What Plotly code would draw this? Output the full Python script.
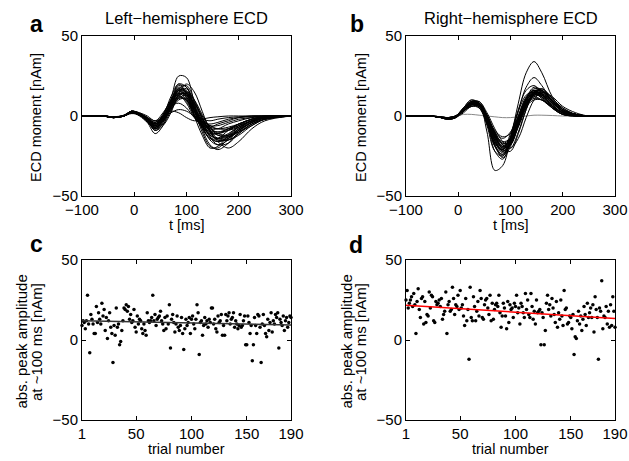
import plotly.graph_objects as go

# ---------------- data ----------------
T_MS = [-100, -60, -40, -20, -5, 10, 25, 40, 55, 70, 85, 100, 115, 130, 145, 160, 180, 200, 225, 250, 300]

LEFT_WAVES = [
    [0, 0, -0.5, 0, 2.5, 1, -3, -9, -4, 10, 25, 24, 8, -8, -18, -21, -17, -10, -4, -1, 0],
    [0, 0, -1, 0, 2, 0.5, -4, -11, -6, 8, 20, 18, 4, -10, -19, -20, -14, -8, -3, -1, 0],
    [0, 0, -0.5, 0.3, 3, 1.5, -1, -5, 0, 12, 20, 14, 0, -12, -20, -19, -12, -6, -2, -0.5, 0],
    [0, 0, -1, 0, 2, 1, -2, -6, -2, 6, 16, 17, 9, -2, -10, -15, -15, -11, -5, -2, 0],
    [0, 0, -0.5, 0, 2.5, 1, -3, -8, -3, 7, 15, 13, 3, -6, -12, -14, -12, -7, -3, -1, 0],
    [0, 0, -1, 0.5, 3, 2, -1, -4, 1, 10, 17, 12, 1, -8, -14, -14, -9, -5, -2, -0.5, 0],
    [0, 0, -0.5, 0, 2, 0, -4, -8, -5, 3, 12, 15, 10, 1, -7, -12, -13, -10, -5, -2, 0],
    [0, 0, -1, 0, 2.5, 1, -2, -5, 0, 8, 14, 10, 1, -5, -9, -10, -8, -5, -2, -0.5, 0],
    [0, 0, -0.5, 0, 1.5, 0.5, -3, -7, -3, 5, 13, 14, 7, -3, -13, -18, -17, -11, -5, -2, 0],
    [0, 0, -1, 0, 3, 1, -2, -6, -1, 9, 18, 15, 4, -4, -8, -8, -5, -3, -1, 0, 0],
    [0, 0, -0.5, 0, 2, 1, -2, -5, -2, 4, 10, 11, 5, -2, -6, -8, -8, -6, -3, -1, 0],
    [0, 0, -1, 0, 2.5, 1, -3, -7, -2, 6, 12, 9, 0, -6, -10, -11, -9, -6, -3, -1, 0],
    [0, 0, -0.5, 0.5, 3, 2, 0, -3, 2, 9, 13, 8, -1, -6, -7, -5, -3, -1, -0.5, 0, 0],
    [0, 0, -1, 0, 2, 0.5, -3, -8, -4, 4, 11, 13, 8, 0, -7, -11, -12, -10, -6, -2, 0],
    [0, 0, -0.5, 0, 2.5, 1, -2, -4, 0, 6, 8, 5, -1, -4, -5, -4, -2, -1, 0, 0, 0],
    [0, 0, -1, 0, 2, 1, -1, -3, -1, 2, 4, 3, 0, -2, -3, -2, -1, -0.5, 0, 0, 0],
    [0, 0, -0.5, 0, 3, 1.5, -2, -6, -1, 8, 16, 16, 6, -5, -13, -16, -14, -9, -4, -1, 0],
    [0, 0, -1, 0, 2, 0.5, -3, -9, -6, 2, 14, 20, 15, 3, -9, -16, -20, -16, -8, -3, 0],
    [0, 0, -0.5, 0, 2.5, 1, -2, -5, -1, 7, 14, 12, 3, -3, -6, -6, -4, -2, -1, 0, 0],
    [0, 0, -1, 0, 2, 1, -2, -6, -2, 5, 11, 10, 3, -4, -9, -12, -12, -8, -4, -1, 0],
    [0, 0, -0.5, 0, 2, 1, -2, -7, -3, 6, 17, 19, 10, -1, -10, -15, -14, -9, -4, -1.5, 0],
    [0, 0, -1, 0, 2.5, 1, -1, -4, 0, 3, 2, -1, -3, -2, -1, -0.5, 0, 0, 0, 0, 0],
    [0, 0, -0.5, 0, 2.5, 1, -2, -6, -1, 9, 17, 14, 3, -7, -14, -16, -13, -8, -3, -1, 0],
    [0, 0, -1, 0, 2, 1, -3, -7, -3, 6, 15, 15, 6, -4, -11, -14, -13, -9, -4, -1, 0],
    [0, 0, -0.5, 0.3, 3, 1.5, -1, -5, 1, 10, 16, 11, 0, -7, -11, -11, -8, -5, -2, -0.5, 0],
    [0, 0, -1, 0, 2, 0.5, -3, -8, -3, 5, 13, 14, 8, -1, -9, -14, -15, -12, -6, -2, 0],
    [0, 0, -0.5, 0, 2.5, 1, -2, -6, -2, 7, 16, 15, 5, -5, -12, -14, -11, -7, -3, -1, 0],
    [0, 0, -1, 0, 2, 1, -2, -5, -1, 7, 12, 10, 2, -4, -7, -8, -7, -5, -2, -0.5, 0],
    [0, 0, -0.5, 0, 3, 1, -3, -7, -2, 8, 19, 18, 6, -6, -15, -18, -15, -9, -4, -1, 0],
    [0, 0, -1, 0, 2, 1, -2, -6, -2, 6, 14, 13, 4, -3, -8, -10, -9, -7, -3, -1, 0],
]

RIGHT_WAVES = [
    [0, 0, -0.5, -2, -1, 5, 10, 8, -10, -34, -31, -14, 8, 27, 34, 27, 12, 4, 1, 0, 0],
    [0, 0, -0.5, -1.5, -0.5, 4, 8, 7, -4, -22, -27, -15, 3, 18, 24, 19, 9, 3, 0.5, 0, 0],
    [0, 0, -0.5, -1.5, 0, 5, 9, 9, 0, -14, -22, -18, -4, 10, 17, 16, 9, 3, 1, 0, 0],
    [0, 0, -0.3, -1, -0.3, 3, 7, 8, 1, -10, -18, -20, -10, 4, 14, 17, 11, 5, 1, 0, 0],
    [0, 0, -0.5, -2, -1, 3, 6, 5, -4, -18, -24, -15, 0, 12, 16, 12, 5, 1, 0, 0, 0],
    [0, 0, -0.5, -1.5, -0.5, 4, 8, 7, -2, -14, -20, -13, 0, 11, 15, 13, 7, 2, 0.5, 0, 0],
    [0, 0, -0.3, -1, 0, 5, 9, 8, -1, -12, -17, -14, -3, 8, 13, 13, 8, 3, 1, 0, 0],
    [0, 0, -0.5, -1.5, -0.5, 4, 7, 5, -5, -17, -21, -11, 3, 13, 15, 11, 5, 1, 0, 0, 0],
    [0, 0, -0.5, -1, 0, 4, 8, 9, 2, -8, -16, -20, -14, -1, 10, 15, 12, 6, 2, 0, 0],
    [0, 0, -0.5, -2, -1, 2, 6, 6, -2, -13, -19, -14, -2, 9, 12, 10, 5, 2, 0, 0, 0],
    [0, 0, -0.3, -1.5, -0.5, 4, 8, 6, -4, -18, -26, -19, -3, 11, 18, 16, 9, 3, 1, 0, 0],
    [0, 0, -0.5, -1, 0, 4, 9, 8, -1, -10, -14, -10, -1, 7, 11, 10, 6, 2, 0.5, 0, 0],
    [0, 0, -0.5, -1.5, -0.5, 3, 7, 7, 0, -11, -21, -22, -11, 4, 15, 17, 11, 5, 1, 0, 0],
    [0, 0, -0.5, -1.5, -0.5, 5, 10, 7, -6, -22, -25, -13, 4, 16, 19, 14, 6, 1, 0, 0, 0],
    [0, 0, -0.5, -1, -0.3, 3, 6, 6, -1, -9, -13, -11, -3, 6, 10, 10, 6, 2, 0.5, 0, 0],
    [0, 0, -0.5, -1.5, -0.5, 4, 8, 7, -3, -16, -23, -18, -4, 9, 16, 15, 9, 3, 1, 0, 0],
    [0, 0, -0.3, -1, 0, 3, 7, 7, 0, -12, -20, -17, -5, 7, 14, 15, 10, 4, 1, 0, 0],
    [0, 0, -0.5, -2, -1, 4, 9, 8, -3, -19, -24, -16, -2, 10, 14, 11, 5, 1, 0, 0, 0],
    [0, 0, -0.5, -1.5, -0.5, 3, 7, 7, -1, -13, -19, -15, -4, 8, 14, 14, 9, 3, 1, 0, 0],
    [0, 0, -0.5, -1.5, 0, 4, 8, 8, 0, -10, -17, -16, -7, 5, 13, 15, 10, 4, 1, 0, 0],
    [0, 0, -0.5, -1.5, -0.5, 3, 7, 6, -3, -15, -22, -17, -5, 7, 13, 12, 7, 2, 0.5, 0, 0],
    [0, 0, -0.5, -1.5, -0.5, 4, 8, 7, -2, -15, -21, -16, -3, 9, 15, 14, 8, 3, 1, 0, 0],
    [0, 0, -0.5, -1, 0, 4, 8, 8, -1, -12, -19, -18, -6, 6, 14, 16, 10, 4, 1, 0, 0],
    [0, 0, -0.5, -1.5, -0.5, 4, 9, 7, -4, -19, -25, -17, -2, 11, 16, 13, 6, 2, 0.5, 0, 0],
    [0, 0, -0.3, -1, 0, 3, 7, 7, 0, -11, -18, -17, -6, 6, 13, 14, 9, 3, 1, 0, 0],
    [0, 0, -0.5, -1.5, -0.5, 4, 8, 6, -3, -16, -22, -16, -3, 9, 15, 13, 7, 2, 0.5, 0, 0],
    [0, 0, -0.5, -1.5, -0.5, 3, 7, 7, -1, -13, -20, -18, -6, 7, 15, 16, 10, 4, 1, 0, 0],
    [0, 0, -0.5, -2, -1, 4, 8, 7, -3, -17, -21, -14, -1, 10, 14, 12, 6, 2, 0, 0, 0],
    [0, 0, -0.3, -1, 0, 4, 8, 8, 0, -11, -16, -14, -4, 7, 12, 13, 8, 3, 1, 0, 0],
]
RIGHT_FLAT = [0, 0, -0.5, -1, 0, 1, 1, 0.5, 0, -0.5, -1, -1, -0.5, 0, 0.5, 0.5, 0.3, 0, 0, 0, 0]

TRIALS = list(range(1, 191))

AMP_LEFT = [
    9, 12, 11, 7, 12, 28, 10, -8, 16, 13,
    10, 4, 4, 21, 11, 17, 13, 10, 23, 15,
    19, 6, 14, 1, 12, 17, 8, 4, -14, 9,
    3, 20, 8, 10, -3, -1, 6, 12, 20, 19,
    22, 18, 21, 13, 16, 11, 12, 19, 8, 5,
    15, 10, 13, 12, 7, 4, 10, 6, 3, 17,
    12, 11, 12, 14, 28, 12, 16, 9, 13, 14,
    15, 18, 12, 10, 6, 14, 7, 15, 10, 22,
    -5, 13, 16, 11, 5, 10, 15, 8, 6, 9,
    14, 4, -6, 7, 13, 9, 11, 14, 4, 13,
    15, 10, 7, 13, 22, 17, -9, 11, 12, 3,
    9, 14, 10, 12, 8, 13, 11, 20, 20, 10,
    13, 7, 5, 15, 11, 12, 16, 3, 9, 3,
    16, 12, 15, 17, 10, 13, 14, 17, 8, 12,
    10, 7, 9, 16, 8, 9, 12, 15, -3, -3,
    15, 11, 4, 9, -13, -3, 14, 9, 4, 16,
    15, 8, -14, 10, 16, 9, 4, 2, 13, 6,
    11, 17, 5, 12, 10, 16, 14, 17, -5, 13,
    11, 9, 15, 6, 12, 14, 8, 11, 15, 14,
]

AMP_RIGHT = [
    25, 31, 20, 23, 25, 27, 21, 29, 22, 4,
    24, 32, 19, 14, 26, 27, 10, 24, 11, 16,
    15, 30, 20, 28, 27, 12, 11, 24, 22, 23,
    25, 21, 26, 13, 16, 18, 30, 4, 22, 24,
    18, 19, 33, 26, 16, 22, 21, 28, 19, 31,
    20, 22, 15, 9, 26, 12, 19, -12, 33, 14,
    12, 27, 21, 12, 18, 24, 15, 31, 26, 14,
    13, 22, 25, 26, 20, 16, 28, 12, 23, 13,
    19, 22, 23, 21, 28, 17, 8, 15, 23, 20,
    15, 7, 24, 11, 22, 19, 20, 14, 23, 21,
    28, 17, 20, 10, 23, 21, 17, 14, 29, 19,
    25, 16, 14, 29, 21, 13, 18, 10, 25, 17,
    18, 19, -3, 17, 14, -3, 6, 23, 28, 19,
    22, 15, 26, 20, 16, 11, 24, 8, 17, 13,
    25, 15, 9, 31, 19, 20, 10, 11, 15, 14,
    7, 16, -9, 2, 1, 12, 18, 10, 15, 6,
    13, 21, 16, 9, 23, 14, 17, 20, 14, 22,
    5, 27, 19, 14, -12, 20, 18, 37, 7, 15,
    14, 21, 10, 18, 8, 22, 9, 27, 18, 8,
]

TREND_X = [1, 190]
TREND_LEFT = [12.1, 9.4]
TREND_RIGHT = [21.7, 13.5]

TIME_TICKS = [-100, 0, 100, 200, 300]
TRIAL_TICKS = [1, 50, 100, 150, 190]
Y_TICKS = [-50, 0, 50]

# ---------------- figure ----------------
W, H = 629, 461
FONT = "Liberation Sans, Arial, Helvetica, sans-serif"

def px_x(p):
    return p / W

def px_y(p):
    return 1 - p / H

fig = go.Figure()

for w in LEFT_WAVES:
    fig.add_trace(go.Scatter(x=T_MS, y=w, mode="lines", line=dict(color="black", width=1, shape="spline", smoothing=1.0),
                             xaxis="x", yaxis="y", showlegend=False, hoverinfo="skip"))
fig.add_trace(go.Scatter(x=T_MS, y=RIGHT_FLAT, mode="lines", line=dict(color="#888888", width=1, shape="spline"),
                         xaxis="x2", yaxis="y2", showlegend=False, hoverinfo="skip"))
for w in RIGHT_WAVES:
    fig.add_trace(go.Scatter(x=T_MS, y=w, mode="lines", line=dict(color="black", width=1, shape="spline", smoothing=1.0),
                             xaxis="x2", yaxis="y2", showlegend=False, hoverinfo="skip"))

fig.add_trace(go.Scatter(x=TRIALS, y=AMP_LEFT, mode="markers", marker=dict(color="black", size=3.5),
                         xaxis="x3", yaxis="y3", showlegend=False, cliponaxis=False))
fig.add_trace(go.Scatter(x=TREND_X, y=TREND_LEFT, mode="lines", line=dict(color="#333333", width=1.5),
                         xaxis="x3", yaxis="y3", showlegend=False))
fig.add_trace(go.Scatter(x=TRIALS, y=AMP_RIGHT, mode="markers", marker=dict(color="black", size=3.5),
                         xaxis="x4", yaxis="y4", showlegend=False, cliponaxis=False))
fig.add_trace(go.Scatter(x=TREND_X, y=TREND_RIGHT, mode="lines", line=dict(color="red", width=1.5),
                         xaxis="x4", yaxis="y4", showlegend=False))

LEFT_DOM = [px_x(82), px_x(291)]
RIGHT_DOM = [px_x(406), px_x(615)]
TOP_DOM = [px_y(196), px_y(36)]
BOT_DOM = [px_y(420), px_y(260)]

TICK_FONT = dict(size=15, color="black", family=FONT)

def xax(dom, rng, ticks, anchor):
    return dict(domain=dom, range=rng, tickvals=ticks, ticktext=[str(t).replace("-", "\u2212") for t in ticks],
                ticks="inside", ticklen=4, tickcolor="black", tickwidth=1,
                showline=True, linecolor="black", linewidth=1, mirror="ticks",
                showgrid=False, zeroline=False, anchor=anchor, automargin=False,
                tickfont=TICK_FONT, fixedrange=True)

def yax(dom, anchor):
    return dict(domain=dom, range=[-50, 50], tickvals=Y_TICKS, ticktext=["\u221250", "0", "50"],
                ticks="inside", ticklen=4, tickcolor="black", tickwidth=1,
                showline=True, linecolor="black", linewidth=1, mirror="ticks",
                showgrid=False, zeroline=False, anchor=anchor, automargin=False,
                tickfont=TICK_FONT, fixedrange=True)

fig.update_layout(
    template="none",
    width=W, height=H,
    margin=dict(l=0, r=0, t=0, b=0, autoexpand=False),
    paper_bgcolor="white", plot_bgcolor="white",
    font=dict(family=FONT, color="black", size=15),
    showlegend=False,
    xaxis=xax(LEFT_DOM, [-100, 300], TIME_TICKS, "y"),
    yaxis=yax(TOP_DOM, "x"),
    xaxis2=xax(RIGHT_DOM, [-100, 300], TIME_TICKS, "y2"),
    yaxis2=yax(TOP_DOM, "x2"),
    xaxis3=xax(LEFT_DOM, [1, 190], TRIAL_TICKS, "y3"),
    yaxis3=yax(BOT_DOM, "x3"),
    xaxis4=xax(RIGHT_DOM, [1, 190], TRIAL_TICKS, "y4"),
    yaxis4=yax(BOT_DOM, "x4"),
)

def ann(text, x, y, size=15, bold=False, angle=0):
    fig.add_annotation(text=f"<b>{text}</b>" if bold else text, x=px_x(x), y=px_y(y), xref="paper", yref="paper",
                       showarrow=False, xanchor="center", yanchor="middle", textangle=angle,
                       font=dict(size=size, family=FONT, color="black"))

# panel letters
ann("a", 36, 24, size=23, bold=True)
ann("b", 357, 24, size=23, bold=True)
ann("c", 36, 244, size=23, bold=True)
ann("d", 356, 245, size=23, bold=True)
# titles
ann("Left\u2212hemisphere ECD", 186.5, 18, size=16.5)
ann("Right\u2212hemisphere ECD", 510.5, 18, size=16.5)
# axis titles
ann("t [ms]", 186.5, 225, size=14.5)
ann("t [ms]", 510.5, 225, size=14.5)
ann("trial number", 186.5, 449, size=14.5)
ann("trial number", 510.5, 449, size=14.5)
ann("ECD moment [nAm]", 36, 118, size=14.5, angle=-90)
ann("ECD moment [nAm]", 361, 118, size=14.5, angle=-90)
ann("abs. peak amplitude", 20.5, 342, size=15, angle=-90)
ann("at ~100 ms [nAm]", 36, 342, size=15, angle=-90)
ann("abs. peak amplitude", 345.5, 342, size=15, angle=-90)
ann("at ~100 ms [nAm]", 360, 342, size=15, angle=-90)

fig.write_html("out.html")
